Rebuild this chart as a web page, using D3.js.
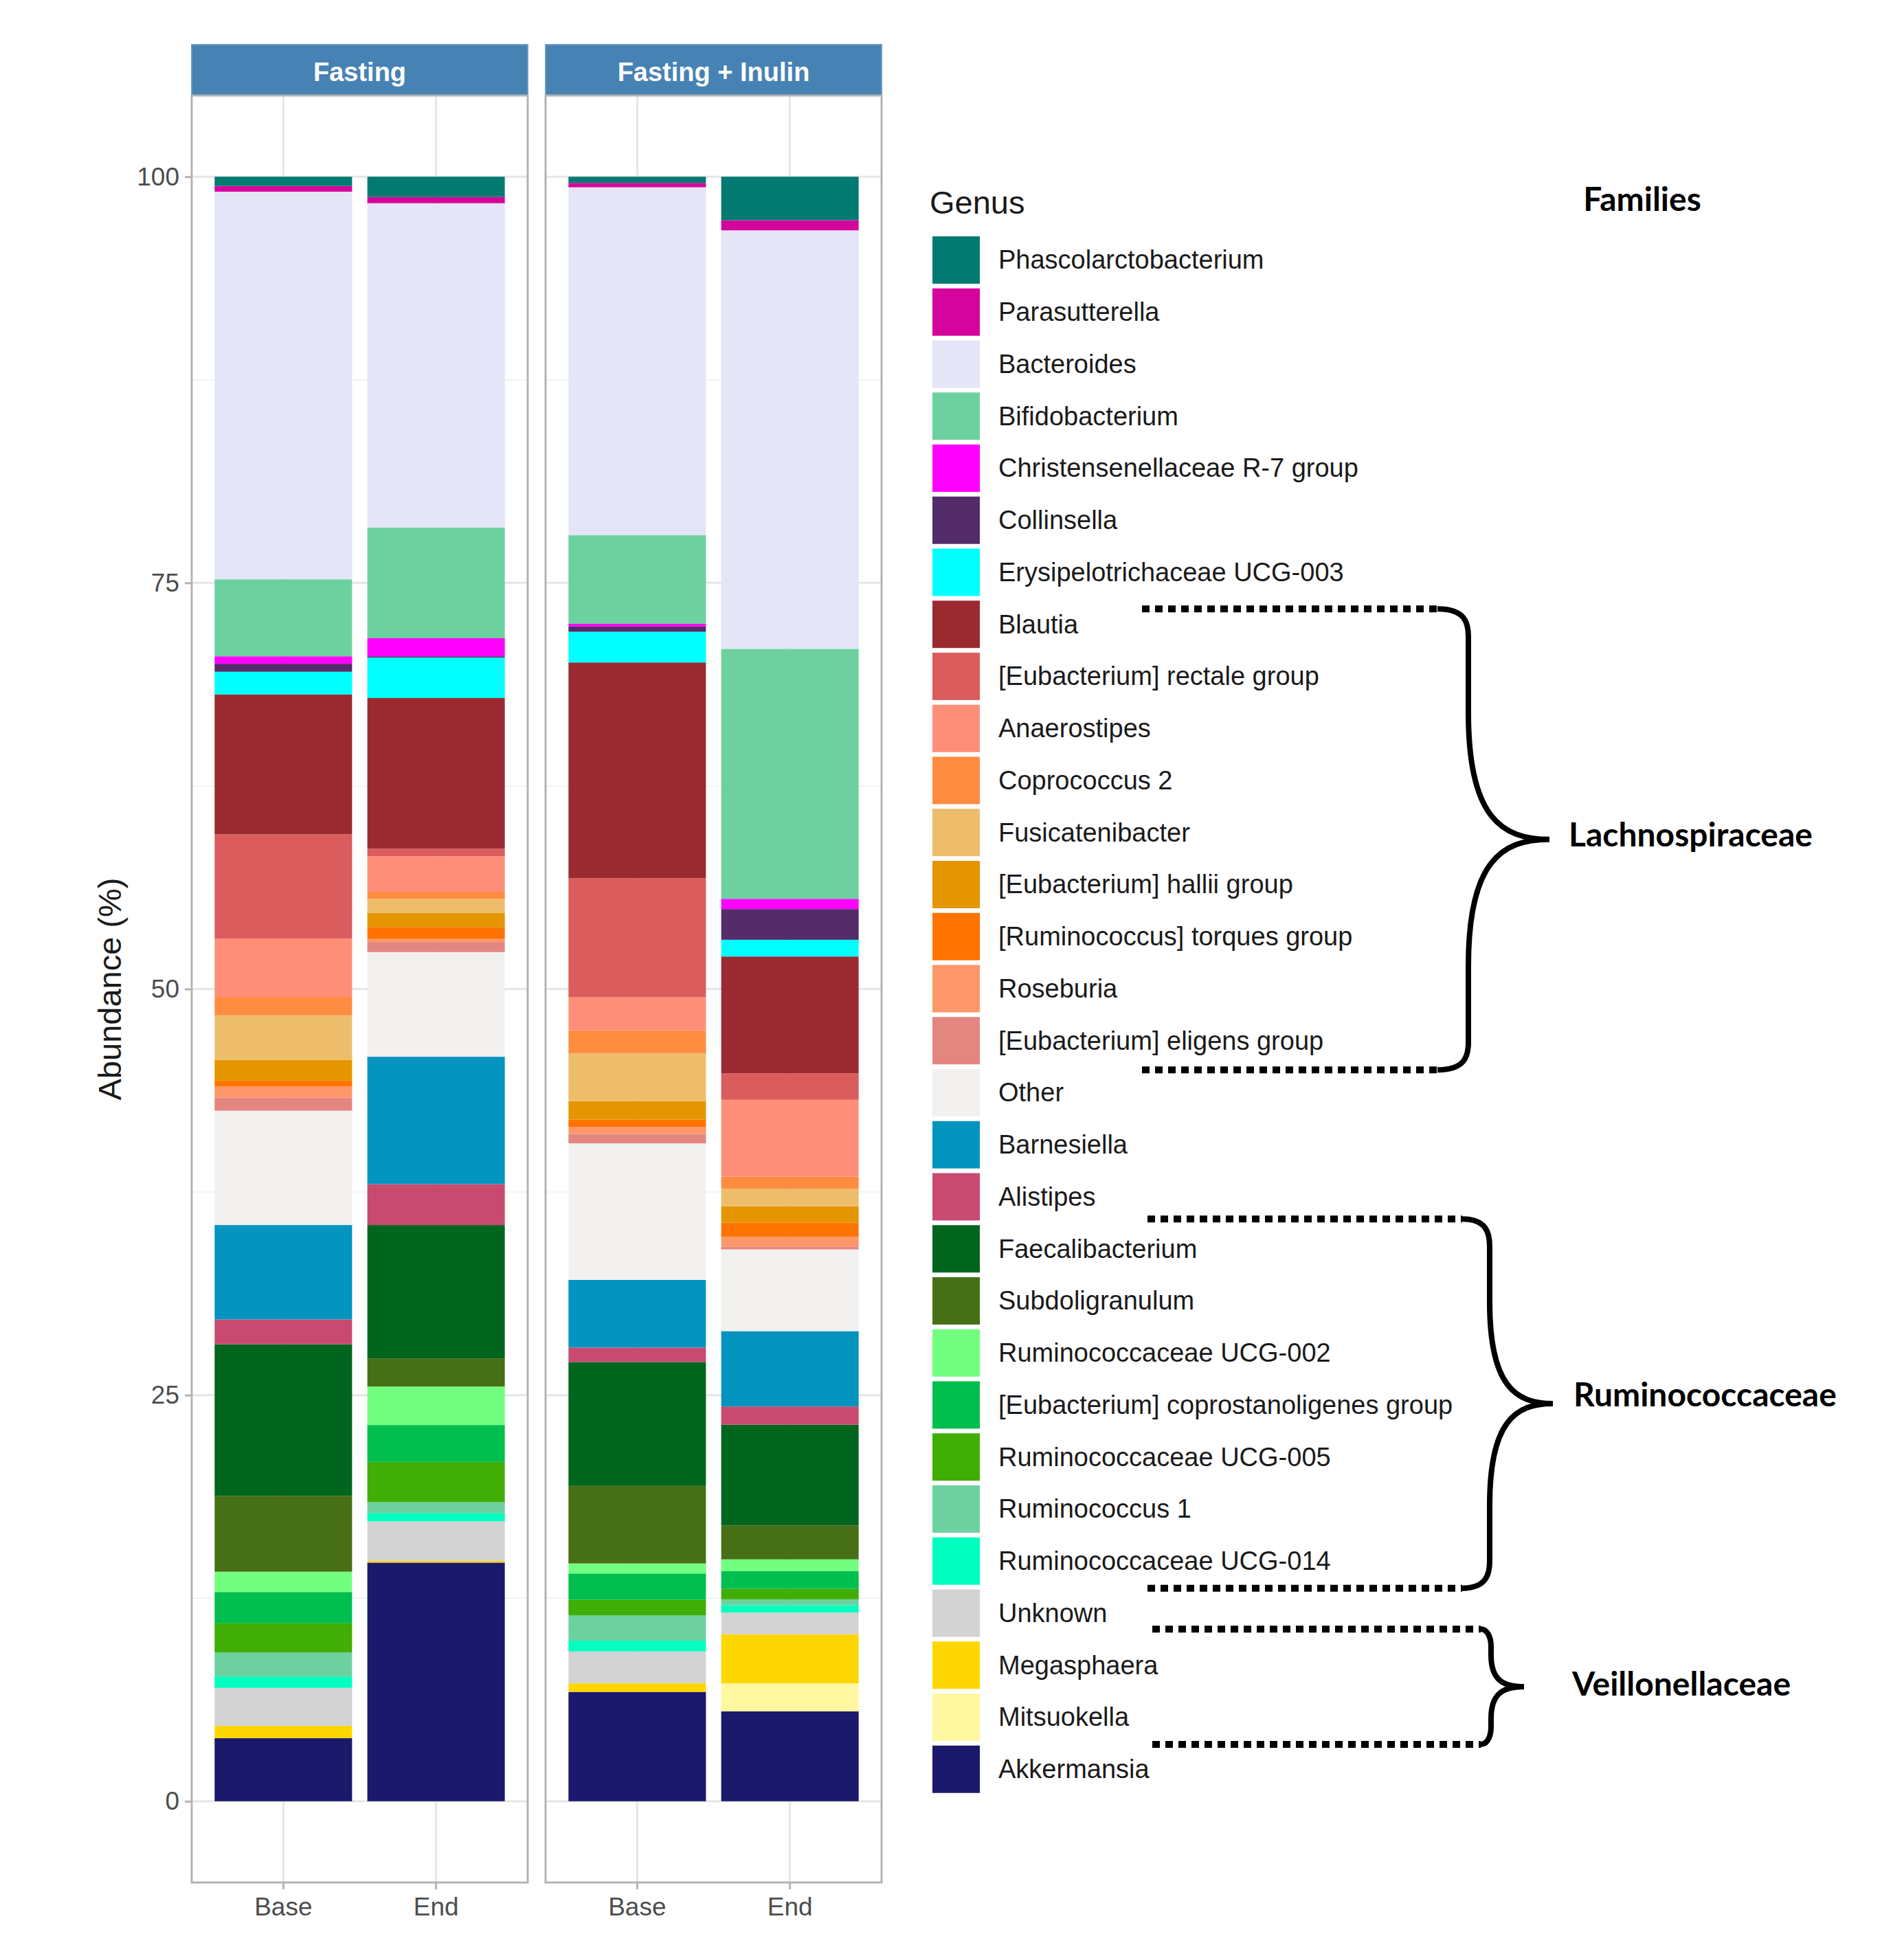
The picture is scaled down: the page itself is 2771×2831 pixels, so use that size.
<!DOCTYPE html>
<html>
<head>
<meta charset="utf-8">
<script src="https://cdn.jsdelivr.net/npm/d3@7"></script>
<style>
	body { margin: 0; background: #ffffff; }
	svg { display: block; }
</style>
</head>
<body>
<svg></svg>
<script>
// genus order as in the legend (top of the stack first)
var genera = ["Phascolarctobacterium", "Parasutterella", "Bacteroides", "Bifidobacterium",
	"Christensenellaceae R-7 group", "Collinsella", "Erysipelotrichaceae UCG-003", "Blautia",
	"[Eubacterium] rectale group", "Anaerostipes", "Coprococcus 2", "Fusicatenibacter",
	"[Eubacterium] hallii group", "[Ruminococcus] torques group", "Roseburia",
	"[Eubacterium] eligens group", "Other", "Barnesiella", "Alistipes", "Faecalibacterium",
	"Subdoligranulum", "Ruminococcaceae UCG-002", "[Eubacterium] coprostanoligenes group",
	"Ruminococcaceae UCG-005", "Ruminococcus 1", "Ruminococcaceae UCG-014", "Unknown",
	"Megasphaera", "Mitsuokella", "Akkermansia"]

var genusColors = ["#027a72", "#d4049c", "#e4e5f7", "#6dd19f", "#ff00ff", "#532c69", "#00ffff",
	"#9b2a30", "#db5c5c", "#ff8e78", "#ff8c40", "#edbd6b", "#e59500", "#ff7300", "#fd9668",
	"#e48680", "#f2f1ef", "#0394bf", "#c94a70", "#00661e", "#476f15", "#72ff80", "#00bf4f",
	"#40ae05", "#6dd19f", "#00ffc0", "#d3d3d3", "#ffd700", "#fff8a0", "#1b196c"]

var groups = ["Fasting", "Fasting + Inulin"]
var samples = ["Base", "End"]

// relative abundance (%) per genus, same order as genera
var fastingBase = [0.57, 0.35, 23.86, 4.74, 0.46, 0.49, 1.40, 8.61, 6.41, 3.60, 1.13, 2.74, 1.29,
	0.36, 0.67, 0.81, 7.04, 5.81, 1.53, 9.33, 4.67, 1.25, 1.93, 1.79, 1.48, 0.70, 2.34, 0.76, 0, 3.88]
var fastingEnd = [1.25, 0.38, 19.96, 6.82, 1.11, 0.08, 2.49, 9.28, 0.46, 2.19, 0.43, 0.87, 0.89,
	0.71, 0.19, 0.62, 6.44, 7.84, 2.52, 8.21, 1.73, 2.37, 2.27, 2.48, 0.67, 0.51, 2.43, 0.11, 0, 14.69]
var inulinBase = [0.38, 0.27, 21.42, 5.45, 0.16, 0.33, 1.89, 13.28, 7.33, 2.03, 1.41, 2.95, 1.14,
	0.46, 0.43, 0.57, 8.41, 4.16, 0.89, 7.63, 4.77, 0.62, 1.62, 0.95, 1.56, 0.67, 1.96, 0.53, 0, 6.73]
var inulinEnd = [2.68, 0.62, 25.76, 15.39, 0.63, 1.89, 1.03, 7.19, 1.63, 4.73, 0.76, 1.06, 1.02,
	0.87, 0.60, 0.17, 5.03, 4.64, 1.12, 6.20, 2.09, 0.73, 1.09, 0.64, 0.36, 0.45, 1.34, 3.02, 1.73, 5.53]

var yTicks = [0, 25, 50, 75, 100]
var yMinorTicks = [12.5, 37.5, 62.5, 87.5]

var families = ["Lachnospiraceae", "Ruminococcaceae", "Veillonellaceae"]
var familyFirst = ["Blautia", "Faecalibacterium", "Megasphaera"]
var familyLast = ["[Eubacterium] eligens group", "Ruminococcaceae UCG-014", "Mitsuokella"]

function main() {
	var W = 2771, H = 2831
	var svg = d3.select("svg").attr("width", W).attr("height", H)
		.style("font-family", "'Liberation Sans', Arial, sans-serif")

	var panel = { top: 139, bottom: 2740, width: 489, lefts: [279, 794], strip: 74 }

	var table = [
		{ group: "Fasting", sample: "Base", v: fastingBase },
		{ group: "Fasting", sample: "End", v: fastingEnd },
		{ group: "Fasting + Inulin", sample: "Base", v: inulinBase },
		{ group: "Fasting + Inulin", sample: "End", v: inulinEnd }
	].map(function (d) {
		var row = { group: d.group, sample: d.sample }
		genera.forEach(function (g, i) { row[g] = d.v[i] })
		return row
	})

	var color = d3.scaleOrdinal().domain(genera).range(genusColors)

	var y = d3.scaleLinear().domain([-5, 105]).range([panel.bottom, panel.top])

	var x = d3.scaleBand().domain(samples).range([0, panel.width])
		.paddingInner(0.1).paddingOuter(0.15)

	// bottom of the stack is the last genus
	var stack = d3.stack().keys(genera.slice().reverse())

	groups.forEach(function (grp, gi) {
		var rows = table.filter(function (d) { return d.group == grp })
		var series = stack(rows)

		var g = svg.append("g")
			.attr("transform", "translate(" + panel.lefts[gi] + ",0)")

		// strip
		g.append("rect")
			.attr("x", 0).attr("y", panel.top - panel.strip)
			.attr("width", panel.width).attr("height", panel.strip)
			.attr("fill", "#4682b4")
			.attr("stroke", "#6f9cc4").attr("stroke-width", 2)
		g.append("text")
			.attr("x", panel.width / 2).attr("y", panel.top - panel.strip / 2 + 3)
			.attr("text-anchor", "middle").attr("dominant-baseline", "central")
			.attr("fill", "#ffffff").style("font-size", "38px").style("font-weight", "bold")
			.text(grp)

		// grid
		g.selectAll(".minor").data(yMinorTicks).enter().append("line")
			.attr("x1", 0).attr("x2", panel.width)
			.attr("y1", function (d) { return y(d) }).attr("y2", function (d) { return y(d) })
			.attr("stroke", "#f0f0f0").attr("stroke-width", 1.5)
		g.selectAll(".major").data(yTicks).enter().append("line")
			.attr("x1", 0).attr("x2", panel.width)
			.attr("y1", function (d) { return y(d) }).attr("y2", function (d) { return y(d) })
			.attr("stroke", "#e6e6e6").attr("stroke-width", 3)
		g.selectAll(".vgrid").data(samples).enter().append("line")
			.attr("x1", function (d) { return x(d) + x.bandwidth() / 2 })
			.attr("x2", function (d) { return x(d) + x.bandwidth() / 2 })
			.attr("y1", panel.top).attr("y2", panel.bottom)
			.attr("stroke", "#e6e6e6").attr("stroke-width", 3)

		// stacked bars
		g.selectAll(".layer").data(series).enter().append("g")
			.attr("fill", function (d) { return color(d.key) })
			.selectAll("rect")
			.data(function (d) { return d })
			.enter().append("rect")
			.attr("x", function (d) { return x(d.data.sample) })
			.attr("width", x.bandwidth())
			.attr("y", function (d) { return y(d[1]) })
			.attr("height", function (d) { return y(d[0]) - y(d[1]) })

		// border
		g.append("rect")
			.attr("x", 0).attr("y", panel.top)
			.attr("width", panel.width).attr("height", panel.bottom - panel.top)
			.attr("fill", "none").attr("stroke", "#b3b3b3").attr("stroke-width", 3)

		// axis-x
		var ax = g.append("g")
			.attr("transform", "translate(0," + panel.bottom + ")")
			.call(d3.axisBottom(x).tickSize(10).tickPadding(12))
		ax.select(".domain").remove()
		ax.selectAll("line").attr("stroke", "#b3b3b3").attr("stroke-width", 3)
		ax.selectAll("text").style("font-size", "37px").attr("fill", "#4d4d4d")
	})

	// axis-y
	var ay = svg.append("g")
		.attr("transform", "translate(" + panel.lefts[0] + ",0)")
		.call(d3.axisLeft(y).tickValues(yTicks).tickSize(10).tickPadding(8))
	ay.select(".domain").remove()
	ay.selectAll("line").attr("stroke", "#b3b3b3").attr("stroke-width", 3)
	ay.selectAll("text").style("font-size", "37px").attr("fill", "#4d4d4d")

	svg.append("text")
		.attr("transform", "translate(159," + y(50) + ") rotate(-90)")
		.attr("text-anchor", "middle").attr("dominant-baseline", "central")
		.style("font-size", "47px").attr("fill", "#1a1a1a")
		.text("Abundance (%)")

	// legend
	var ly = d3.scaleBand().domain(genera).range([340.6, 2613.1])
		.paddingInner(0.09).paddingOuter(0.045)
	var legend = svg.append("g")
	legend.append("text")
		.attr("x", 1353).attr("y", 294)
		.attr("dominant-baseline", "central")
		.style("font-size", "47px").attr("fill", "#1a1a1a")
		.text("Genus")
	var item = legend.selectAll(".item").data(genera).enter().append("g")
	item.append("rect")
		.attr("x", 1357).attr("y", function (d) { return ly(d) })
		.attr("width", 69).attr("height", ly.bandwidth())
		.attr("fill", function (d) { return color(d) })
	item.append("text")
		.attr("x", 1453).attr("y", function (d) { return ly(d) + ly.bandwidth() / 2 })
		.attr("dominant-baseline", "central")
		.style("font-size", "38px").attr("fill", "#1a1a1a")
		.text(function (d) { return d })

	// families with braces
	var fam = svg.append("g").style("font-family", "Lato, 'Open Sans', sans-serif")
	fam.append("text")
		.attr("x", 2390).attr("y", 288)
		.attr("text-anchor", "middle").attr("dominant-baseline", "central")
		.style("font-size", "48px").style("font-weight", "bold").attr("fill", "#000")
		.text("Families")

	var braceX = [
		{ start: 1662, x0: 2092, xm: 2137, xt: 2255, dt: 12, db: 8, lx: 2283, ly: -8 },
		{ start: 1670, x0: 2128, xm: 2168, xt: 2260, dt: -9, db: 5, lx: 2290, ly: -14 },
		{ start: 1677, x0: 2155, xm: 2170, xt: 2218, dt: -18, db: 5, lx: 2288, ly: -6 }
	]

	families.forEach(function (name, i) {
		var b = braceX[i]
		var yt = ly(familyFirst[i]) + b.dt
		var yb = ly(familyLast[i]) + ly.bandwidth() + b.db
		var ym = (yt + yb) / 2
		var q = ym - yt
		var r = Math.min(40, q * 0.3)

		fam.append("line")
			.attr("x1", b.start).attr("x2", b.x0).attr("y1", yt).attr("y2", yt)
			.attr("stroke", "#000").attr("stroke-width", 10).attr("stroke-dasharray", "11,8")
		fam.append("line")
			.attr("x1", b.start).attr("x2", b.x0).attr("y1", yb).attr("y2", yb)
			.attr("stroke", "#000").attr("stroke-width", 10).attr("stroke-dasharray", "11,8")

		var p = d3.path()
		p.moveTo(b.x0, yt)
		p.bezierCurveTo(b.xm - 5, yt, b.xm, yt + r * 0.5, b.xm, yt + r)
		p.lineTo(b.xm, ym - q * 0.55)
		p.bezierCurveTo(b.xm, ym - q * 0.1, b.xm + (b.xt - b.xm) * 0.4, ym, b.xt, ym)
		p.bezierCurveTo(b.xm + (b.xt - b.xm) * 0.4, ym, b.xm, ym + q * 0.1, b.xm, ym + q * 0.55)
		p.lineTo(b.xm, yb - r)
		p.bezierCurveTo(b.xm, yb - r * 0.5, b.xm - 5, yb, b.x0, yb)
		fam.append("path")
			.attr("d", p.toString())
			.attr("fill", "none").attr("stroke", "#000").attr("stroke-width", 8)
			.attr("stroke-linejoin", "miter")

		fam.append("text")
			.attr("x", b.lx).attr("y", ym + b.ly)
			.attr("dominant-baseline", "central")
			.style("font-size", "48px").style("font-weight", "bold").attr("fill", "#000")
			.text(name)
	})
}

main()
</script>
</body>
</html>
